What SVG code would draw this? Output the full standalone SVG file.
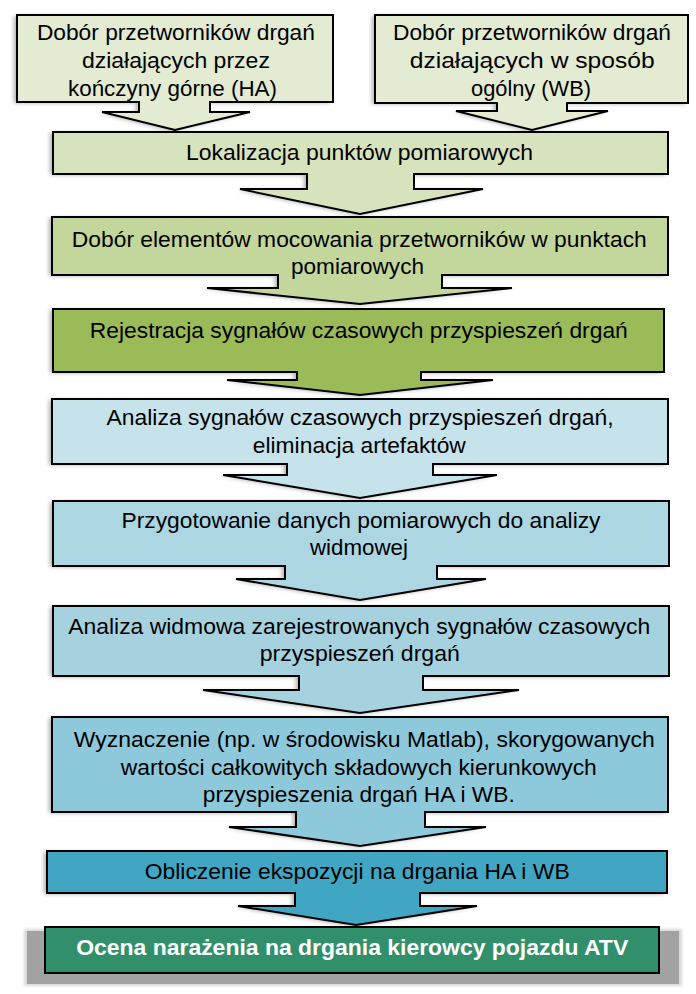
<svg xmlns="http://www.w3.org/2000/svg" width="696" height="994" viewBox="0 0 696 994">
<style>
.t{font-family:"Liberation Sans",Arial,sans-serif;font-size:22.5px;fill:#000;text-anchor:middle}
.tb{font-family:"Liberation Sans",Arial,sans-serif;font-size:22.5px;font-weight:bold;fill:#fff;text-anchor:middle}
.ol{fill:none;stroke:#000;stroke-width:2;stroke-linecap:square;stroke-linejoin:miter}
.ar{stroke:#000;stroke-width:2;stroke-linecap:square;stroke-linejoin:miter}
.c1{fill:#e3ebd3}.c3{fill:#d6e3bc}.c4{fill:#c3d69b}.c5{fill:#9bbb59}
.c6{fill:#c6e2eb}.c7{fill:#acd6e2}.c8{fill:#a5d2de}.c9{fill:#8dc9da}.c10{fill:#41a6c4}.c11{fill:#31906b}
</style>
<defs>
<filter id="blur" x="-10%" y="-10%" width="120%" height="120%"><feGaussianBlur stdDeviation="2.2"/></filter>
<filter id="blur2" x="-10%" y="-30%" width="120%" height="160%"><feGaussianBlur stdDeviation="1.5"/></filter>
</defs>
<rect width="696" height="994" fill="#fff"/>
<g id="shadows" fill="#000" opacity="0.32" filter="url(#blur)" transform="translate(-3,1)">
<path d="M17 15H333V102H210V112H250L175 130L102 112H139V102H17Z"/>
<path d="M375 15H688V103H567V111H608L532 130L456 111H497V103H375Z"/>
<path d="M53 132H668V174H414V189H483L360 214L240 189H307V174H53Z"/>
<path d="M52 217H668V275H442V288H512L360 304L207 288H278V275H52Z"/>
<path d="M53 309H664V372H421V380H493L360 395L227 380H297V372H53Z"/>
<path d="M52 399H668V464H433V475H497L360 498L223 475H287V464H52Z"/>
<path d="M53 501H669V566H437V579H486L360 600L236 579H285V566H53Z"/>
<path d="M53 606H669V676H423V690H519L360 713L203 690H299V676H53Z"/>
<path d="M52 717H668V812H425V827H486L360 846L229 827H296V812H52Z"/>
<path d="M47 851H667V893H420V906H477L356 925L238 906H295V893H47Z"/>
</g>
<g id="ocena-shadow">
<rect x="24" y="929" width="658" height="57" fill="#d8d8d8" filter="url(#blur2)"/>
<rect x="27" y="931" width="652" height="53" fill="#a2a2a2"/>
</g>
<g id="connectors">
<path class="ar c1" d="M139 102V112H102L175 130L250 112H210V102"/>
<path class="ar c1" d="M497 103V111H456L532 130L608 111H567V103"/>
<path class="ar c3" d="M307 174V189H240L360 214L483 189H414V174"/>
<path class="ar c4" d="M278 275V288H207L360 304L512 288H442V275"/>
<path class="ar c5" d="M297 372V380H227L360 395L493 380H421V372"/>
<path class="ar c6" d="M287 464V475H223L360 498L497 475H433V464"/>
<path class="ar c7" d="M285 566V579H236L360 600L486 579H437V566"/>
<path class="ar c8" d="M299 676V690H203L360 713L519 690H423V676"/>
<path class="ar c9" d="M296 812V827H229L360 846L486 827H425V812"/>
<path class="ar c10" d="M295 893V906H238L356 925L477 906H420V893"/>
</g>
<g id="n1">
<rect class="c1" x="17" y="15" width="316" height="87"/>
<path class="ol" d="M139 102H17V15H333V102H210"/>
<text class="t" x="175.9" y="39.5" textLength="278" lengthAdjust="spacingAndGlyphs">Dobór przetworników drgań</text>
<text class="t" x="175.9" y="67.5" textLength="188" lengthAdjust="spacingAndGlyphs">działających przez</text>
<text class="t" x="172.5" y="95.5" textLength="209" lengthAdjust="spacingAndGlyphs">kończyny górne (HA)</text>
</g>
<g id="n2">
<rect class="c1" x="375" y="15" width="313" height="88"/>
<path class="ol" d="M497 103H375V15H688V103H567"/>
<text class="t" x="532" y="39.5" textLength="278" lengthAdjust="spacingAndGlyphs">Dobór przetworników drgań</text>
<text class="t" x="532.2" y="67.5" textLength="245" lengthAdjust="spacingAndGlyphs">działających w sposób</text>
<text class="t" x="531" y="95.5" textLength="120" lengthAdjust="spacingAndGlyphs">ogólny (WB)</text>
</g>
<g id="n3">
<rect class="c3" x="53" y="132" width="615" height="42"/>
<path class="ol" d="M307 174H53V132H668V174H414"/>
<text class="t" x="359.5" y="160" textLength="347" lengthAdjust="spacingAndGlyphs">Lokalizacja punktów pomiarowych</text>
</g>
<g id="n4">
<rect class="c4" x="52" y="217" width="616" height="58"/>
<path class="ol" d="M278 275H52V217H668V275H442"/>
<text class="t" x="359.3" y="247" textLength="575" lengthAdjust="spacingAndGlyphs">Dobór elementów mocowania przetworników w punktach</text>
<text class="t" x="357.5" y="274" textLength="133" lengthAdjust="spacingAndGlyphs">pomiarowych</text>
</g>
<g id="n5">
<rect class="c5" x="53" y="309" width="611" height="63"/>
<path class="ol" d="M297 372H53V309H664V372H421"/>
<text class="t" x="358.8" y="337.5" textLength="538" lengthAdjust="spacingAndGlyphs">Rejestracja sygnałów czasowych przyspieszeń drgań</text>
</g>
<g id="n6">
<rect class="c6" x="52" y="399" width="616" height="65"/>
<path class="ol" d="M287 464H52V399H668V464H433"/>
<text class="t" x="360" y="425" textLength="507" lengthAdjust="spacingAndGlyphs">Analiza sygnałów czasowych przyspieszeń drgań,</text>
<text class="t" x="359.3" y="452.5" textLength="213" lengthAdjust="spacingAndGlyphs">eliminacja artefaktów</text>
</g>
<g id="n7">
<rect class="c7" x="53" y="501" width="616" height="65"/>
<path class="ol" d="M285 566H53V501H669V566H437"/>
<text class="t" x="361" y="527.5" textLength="479" lengthAdjust="spacingAndGlyphs">Przygotowanie danych pomiarowych do analizy</text>
<text class="t" x="359" y="555" textLength="98" lengthAdjust="spacingAndGlyphs">widmowej</text>
</g>
<g id="n8">
<rect class="c8" x="53" y="606" width="616" height="70"/>
<path class="ol" d="M299 676H53V606H669V676H423"/>
<text class="t" x="359.2" y="633.5" textLength="582" lengthAdjust="spacingAndGlyphs">Analiza widmowa zarejestrowanych sygnałów czasowych</text>
<text class="t" x="359.8" y="661" textLength="200" lengthAdjust="spacingAndGlyphs">przyspieszeń drgań</text>
</g>
<g id="n9">
<rect class="c9" x="52" y="717" width="616" height="95"/>
<path class="ol" d="M296 812H52V717H668V812H425"/>
<text class="t" x="364.3" y="746.5" textLength="581" lengthAdjust="spacingAndGlyphs">Wyznaczenie (np. w środowisku Matlab), skorygowanych</text>
<text class="t" x="358.8" y="774.5" textLength="476" lengthAdjust="spacingAndGlyphs">wartości całkowitych składowych kierunkowych</text>
<text class="t" x="358.8" y="801.5" textLength="312" lengthAdjust="spacingAndGlyphs">przyspieszenia drgań HA i WB.</text>
</g>
<g id="n10">
<rect class="c10" x="47" y="851" width="620" height="42"/>
<path class="ol" d="M295 893H47V851H667V893H420"/>
<text class="t" x="357.2" y="878.5" textLength="425" lengthAdjust="spacingAndGlyphs">Obliczenie ekspozycji na drgania HA i WB</text>
</g>
<g id="n11">
<rect class="c11" x="45" y="927" width="614" height="46" stroke="#000" stroke-width="2"/>
<text class="tb" x="352.2" y="954.5" textLength="552" lengthAdjust="spacingAndGlyphs">Ocena narażenia na drgania kierowcy pojazdu ATV</text>
</g>
</svg>
